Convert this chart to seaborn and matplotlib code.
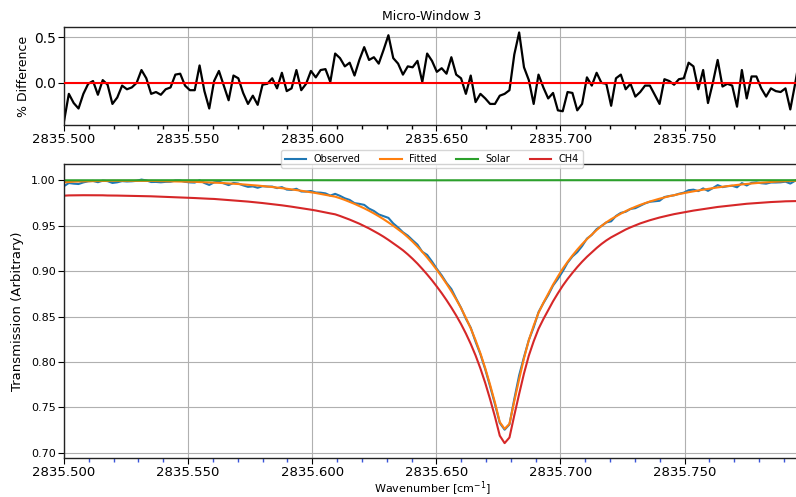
import numpy as np
import pandas as pd
import matplotlib
matplotlib.use("Agg")
import matplotlib.pyplot as plt
import seaborn as sns
from matplotlib.ticker import MultipleLocator, FormatStrFormatter

# ---------------- data ----------------
wn_start, wn_end = 2835.500, 2835.7965

pct_diff = [
    -0.42, -0.12, -0.22, -0.28, -0.12, -0.01, 0.02, -0.13, 0.03, -0.02,
    -0.23, -0.16, -0.03, -0.07, -0.05, 0.00, 0.14, 0.05, -0.12, -0.10,
    -0.13, -0.07, -0.05, 0.09, 0.10, -0.03, -0.08, -0.08, 0.19, -0.09,
    -0.28, 0.02, 0.13, -0.03, -0.19, 0.08, 0.05, -0.11, -0.23, -0.14,
    -0.24, -0.02, -0.01, 0.05, -0.06, 0.11, -0.09, -0.06, 0.14, -0.08,
    -0.01, 0.13, 0.06, 0.14, 0.15, 0.01, 0.32, 0.27, 0.18, 0.22,
    0.08, 0.25, 0.39, 0.25, 0.28, 0.21, 0.36, 0.52, 0.27, 0.21,
    0.09, 0.18, 0.17, 0.24, 0.01, 0.32, 0.24, 0.12, 0.16, 0.10,
    0.28, 0.09, 0.05, -0.12, 0.08, -0.21, -0.12, -0.17, -0.23, -0.23,
    -0.14, -0.12, -0.08, 0.31, 0.55, 0.17, 0.03, -0.23, 0.09, -0.05,
    -0.17, -0.11, -0.30, -0.31, -0.10, -0.11, -0.30, -0.23, 0.06, -0.03,
    0.11, 0.00, -0.01, -0.25, 0.05, 0.09, -0.07, -0.01, -0.15, -0.10,
    -0.03, -0.03, -0.13, -0.23, 0.04, 0.02, -0.02, 0.04, 0.05, 0.22,
    0.18, -0.07, 0.14, -0.22, 0.00, 0.25, -0.04, -0.01, -0.03, -0.26,
    0.14, -0.17, 0.07, 0.07, -0.06, -0.15, -0.06, -0.09, -0.10, -0.06,
    -0.29, -0.01, 0.30,
]

fitted = [
    0.9975, 0.9979, 0.9982, 0.9984, 0.9986, 0.9987, 0.9988, 0.9989, 0.9990, 0.9990,
    0.9991, 0.9991, 0.9991, 0.9991, 0.9991, 0.9991, 0.9991, 0.9990, 0.9990, 0.9989,
    0.9988, 0.9987, 0.9986, 0.9985, 0.9984, 0.9983, 0.9982, 0.9980, 0.9978, 0.9976,
    0.9974, 0.9972, 0.9969, 0.9966, 0.9963, 0.9960, 0.9956, 0.9952, 0.9948, 0.9944,
    0.9939, 0.9934, 0.9929, 0.9923, 0.9917, 0.9911, 0.9904, 0.9897, 0.9890, 0.9882,
    0.9874, 0.9866, 0.9857, 0.9847, 0.9838, 0.9828, 0.9817, 0.9800, 0.9781, 0.9760,
    0.9738, 0.9714, 0.9689, 0.9662, 0.9633, 0.9602, 0.9569, 0.9534, 0.9497, 0.9458,
    0.9418, 0.9372, 0.9322, 0.9268, 0.9210, 0.9148, 0.9082, 0.9012, 0.8938, 0.8860,
    0.8777, 0.8688, 0.8592, 0.8486, 0.8370, 0.8240, 0.8095, 0.7932, 0.7750, 0.7555,
    0.7340, 0.7265, 0.7320, 0.7570, 0.7810, 0.8040, 0.8240, 0.8400, 0.8540, 0.8650,
    0.8750, 0.8850, 0.8940, 0.9025, 0.9100, 0.9170, 0.9235, 0.9295, 0.9350, 0.9400,
    0.9450, 0.9495, 0.9535, 0.9570, 0.9600, 0.9630, 0.9658, 0.9683, 0.9706, 0.9727,
    0.9746, 0.9764, 0.9780, 0.9795, 0.9809, 0.9822, 0.9834, 0.9845, 0.9856, 0.9866,
    0.9876, 0.9885, 0.9894, 0.9903, 0.9911, 0.9919, 0.9926, 0.9933, 0.9940, 0.9946,
    0.9952, 0.9957, 0.9962, 0.9967, 0.9971, 0.9975, 0.9979, 0.9982, 0.9985, 0.9988,
    0.9990, 0.9992, 0.9994,
]

observed = [
    0.9933, 0.9967, 0.9960, 0.9956, 0.9974, 0.9986, 0.9990, 0.9976, 0.9993, 0.9988,
    0.9968, 0.9975, 0.9988, 0.9984, 0.9986, 0.9991, 1.0005, 0.9995, 0.9978, 0.9979,
    0.9975, 0.9980, 0.9981, 0.9994, 0.9994, 0.9980, 0.9974, 0.9972, 0.9997, 0.9967,
    0.9946, 0.9974, 0.9982, 0.9963, 0.9944, 0.9968, 0.9961, 0.9941, 0.9925, 0.9930,
    0.9915, 0.9932, 0.9928, 0.9928, 0.9911, 0.9922, 0.9895, 0.9891, 0.9904, 0.9874,
    0.9873, 0.9879, 0.9863, 0.9861, 0.9853, 0.9829, 0.9848, 0.9826, 0.9799, 0.9781,
    0.9746, 0.9738, 0.9727, 0.9686, 0.9660, 0.9622, 0.9603, 0.9584, 0.9523, 0.9478,
    0.9426, 0.9389, 0.9338, 0.9290, 0.9211, 0.9177, 0.9104, 0.9023, 0.8952, 0.8869,
    0.8802, 0.8696, 0.8596, 0.8476, 0.8377, 0.8223, 0.8085, 0.7919, 0.7732, 0.7538,
    0.7330, 0.7256, 0.7314, 0.7593, 0.7853, 0.8054, 0.8242, 0.8381, 0.8548, 0.8646,
    0.8735, 0.8840, 0.8913, 0.8997, 0.9091, 0.9160, 0.9207, 0.9274, 0.9356, 0.9397,
    0.9460, 0.9495, 0.9534, 0.9546, 0.9605, 0.9639, 0.9651, 0.9682, 0.9691, 0.9717,
    0.9743, 0.9761, 0.9767, 0.9772, 0.9813, 0.9824, 0.9832, 0.9849, 0.9861, 0.9888,
    0.9894, 0.9878, 0.9908, 0.9881, 0.9911, 0.9944, 0.9922, 0.9932, 0.9937, 0.9920,
    0.9966, 0.9940, 0.9969, 0.9974, 0.9965, 0.9960, 0.9973, 0.9973, 0.9975, 0.9982,
    0.9961, 0.9991, 1.0024,
]

ch4 = [
    0.9828, 0.9831, 0.9832, 0.9833, 0.9833, 0.9833, 0.9833, 0.9832, 0.9832, 0.9830,
    0.9830, 0.9829, 0.9828, 0.9827, 0.9826, 0.9825, 0.9824, 0.9822, 0.9821, 0.9819,
    0.9817, 0.9815, 0.9813, 0.9811, 0.9809, 0.9807, 0.9805, 0.9802, 0.9799, 0.9796,
    0.9794, 0.9792, 0.9788, 0.9784, 0.9781, 0.9777, 0.9772, 0.9768, 0.9763, 0.9758,
    0.9753, 0.9747, 0.9741, 0.9735, 0.9729, 0.9722, 0.9715, 0.9707, 0.9699, 0.9691,
    0.9682, 0.9674, 0.9665, 0.9654, 0.9644, 0.9633, 0.9623, 0.9605, 0.9585, 0.9565,
    0.9543, 0.9520, 0.9494, 0.9468, 0.9439, 0.9409, 0.9377, 0.9342, 0.9305, 0.9267,
    0.9228, 0.9183, 0.9134, 0.9081, 0.9023, 0.8962, 0.8898, 0.8829, 0.8757, 0.8680,
    0.8598, 0.8511, 0.8417, 0.8313, 0.8199, 0.8072, 0.7929, 0.7769, 0.7591, 0.7400,
    0.7190, 0.7108, 0.7170, 0.7414, 0.7649, 0.7874, 0.8070, 0.8227, 0.8364, 0.8471,
    0.8569, 0.8667, 0.8755, 0.8838, 0.8912, 0.8979, 0.9043, 0.9102, 0.9156, 0.9204,
    0.9253, 0.9297, 0.9336, 0.9370, 0.9399, 0.9429, 0.9456, 0.9480, 0.9502, 0.9523,
    0.9541, 0.9558, 0.9573, 0.9588, 0.9601, 0.9613, 0.9625, 0.9635, 0.9645, 0.9655,
    0.9664, 0.9672, 0.9681, 0.9689, 0.9697, 0.9704, 0.9710, 0.9717, 0.9723, 0.9729,
    0.9734, 0.9739, 0.9743, 0.9748, 0.9751, 0.9755, 0.9758, 0.9760, 0.9763, 0.9766,
    0.9767, 0.9768, 0.9770,
]

solar_wn = [2835.50, 2835.55, 2835.60, 2835.65, 2835.70, 2835.75, 2835.7965]
solar = [0.9997, 0.9998, 0.9998, 0.9997, 0.9998, 0.9998, 0.9998]

series_names = ["Observed", "Fitted", "Solar", "CH4"]
series_colors = ["#1f77b4", "#ff7f0e", "#2ca02c", "#d62728"]

wavenumber = np.linspace(wn_start, wn_end, len(pct_diff))

# ---------------- figure ----------------
plt.rcParams.update({
    "axes.grid": True,
    "grid.color": "#b0b0b0",
    "grid.linewidth": 0.8,
    "axes.edgecolor": "#222222",
    "axes.linewidth": 1.0,
})

fig = plt.figure(figsize=(7.96, 4.97), dpi=100)
ax1 = fig.add_axes([0.0804, 0.7485, 0.9246, 0.1972])
ax2 = fig.add_axes([0.0804, 0.0785, 0.9246, 0.5915])

# top: percentage difference
sns.lineplot(x=wavenumber, y=pct_diff, ax=ax1, color="black", linewidth=1.6,
             errorbar=None, sort=False)
ax1.axhline(0.0, color="red", linewidth=1.5, zorder=3)
ax1.set_xlim(wn_start, wn_end)
ax1.set_ylim(-0.46, 0.61)
ax1.yaxis.set_major_locator(MultipleLocator(0.5))
ax1.yaxis.set_major_formatter(FormatStrFormatter("%.1f"))
ax1.set_ylabel("% Difference", fontsize=9, labelpad=3)
ax1.set_title("Micro-Window 3", fontsize=9, pad=5)

# bottom: transmission
ys = [observed, fitted, None, ch4]
for name, color, y in zip(series_names, series_colors, ys):
    if name == "Solar":
        sns.lineplot(x=solar_wn, y=solar, ax=ax2, color=color, linewidth=1.5,
                     label=name, errorbar=None, sort=False)
    else:
        sns.lineplot(x=wavenumber, y=y, ax=ax2, color=color, linewidth=1.5,
                     label=name, errorbar=None, sort=False)
ax2.set_xlim(wn_start, wn_end)
ax2.set_ylim(0.6945, 1.0176)
ax2.yaxis.set_major_locator(MultipleLocator(0.05))
ax2.yaxis.set_major_formatter(FormatStrFormatter("%.2f"))
ax2.set_ylabel("Transmission (Arbitrary)", fontsize=9.5, labelpad=5)
ax2.set_xlabel("Wavenumber [cm$^{-1}$]", fontsize=8, labelpad=0)
ax2.legend(ncol=4, loc="center", bbox_to_anchor=(0.5, 1.016), fontsize=7,
           handlelength=2.2, columnspacing=2.0, borderpad=0.4,
           framealpha=0.8)

for ax in (ax1, ax2):
    ax.xaxis.set_major_locator(MultipleLocator(0.05))
    ax.xaxis.set_minor_locator(MultipleLocator(0.01))
    ax.xaxis.set_major_formatter(FormatStrFormatter("%.3f"))
    ax.tick_params(axis="x", which="major", labelsize=9.5, length=4, pad=2)
    ax.tick_params(axis="x", which="minor", length=3, width=1)
    ax.grid(True, which="major")
    ax.grid(False, which="minor")

ax1.tick_params(axis="y", labelsize=10, length=4, pad=2)
ax2.tick_params(axis="y", labelsize=8, length=4, pad=2)
ax2.tick_params(axis="x", which="minor", color="#3a55d8")

fig.savefig("out.png", dpi=100)
